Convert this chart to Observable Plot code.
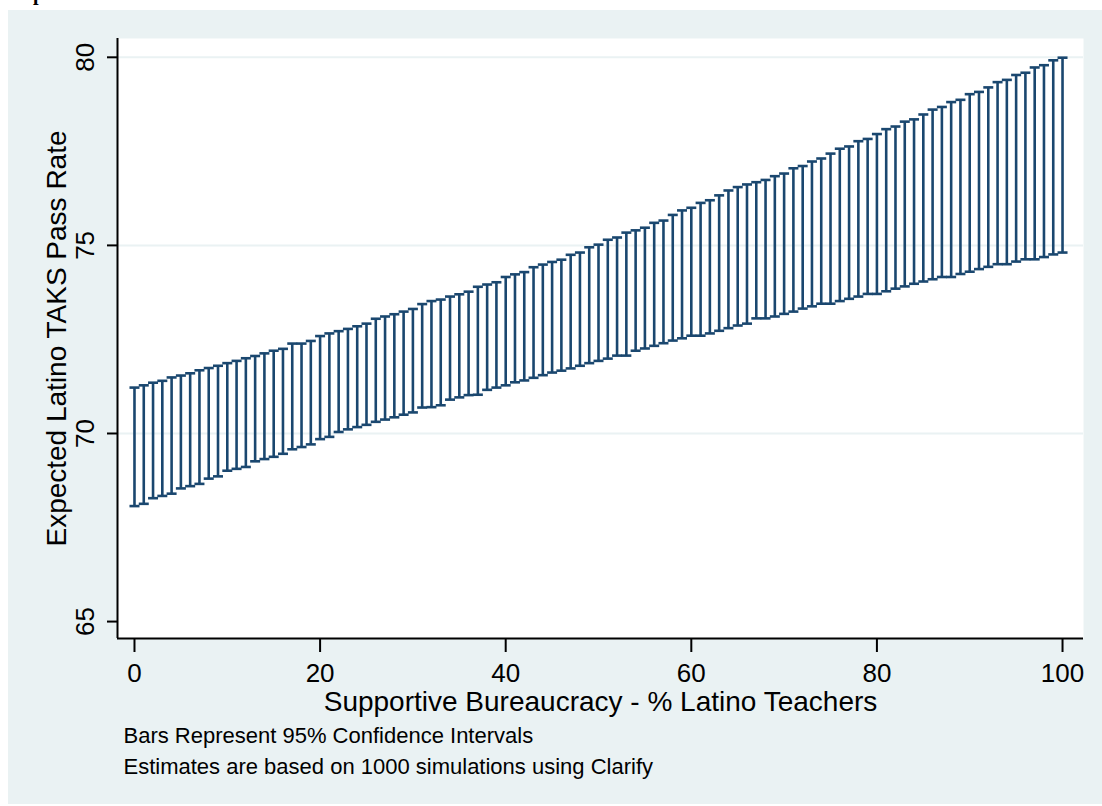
<!DOCTYPE html>
<html>
<head>
<meta charset="utf-8">
<script src="https://cdn.jsdelivr.net/npm/d3@7"></script>
<script src="https://cdn.jsdelivr.net/npm/@observablehq/plot@0.6"></script>
<style>
  html, body { margin: 0; padding: 0; background: #ffffff; width: 1102px; height: 806px; overflow: hidden; }
  #frag { position: absolute; left: 33px; top: -17px; font: bold 20px "Liberation Serif", "Times New Roman", serif; line-height: 20px; color: #000; }
  #chart { position: absolute; left: 8px; top: 10px; }
</style>
</head>
<body>
<div id="frag">p</div>
<div id="chart"></div>
<script>
// % Latino teachers (x)
const pct = [0,1,2,3,4,5,6,7,8,9,10,11,12,13,14,15,16,17,18,19,20,21,22,23,24,25,26,27,28,29,30,31,32,33,34,35,36,37,38,39,40,41,42,43,44,45,46,47,48,49,50,51,52,53,54,55,56,57,58,59,60,61,62,63,64,65,66,67,68,69,70,71,72,73,74,75,76,77,78,79,80,81,82,83,84,85,86,87,88,89,90,91,92,93,94,95,96,97,98,99,100];
// upper bound of 95% CI
const upper = [71.22,71.28,71.35,71.40,71.49,71.54,71.60,71.68,71.74,71.80,71.87,71.93,72.00,72.06,72.13,72.20,72.25,72.39,72.39,72.46,72.59,72.66,72.72,72.78,72.85,72.92,73.05,73.11,73.17,73.24,73.31,73.44,73.52,73.56,73.64,73.70,73.77,73.90,73.96,74.02,74.16,74.23,74.29,74.42,74.49,74.56,74.62,74.75,74.81,74.95,75.02,75.15,75.21,75.34,75.40,75.47,75.60,75.66,75.81,75.93,76.00,76.13,76.20,76.33,76.46,76.55,76.62,76.68,76.74,76.84,76.91,77.05,77.11,77.23,77.31,77.44,77.57,77.63,77.77,77.83,77.96,78.09,78.16,78.29,78.35,78.48,78.61,78.68,78.81,78.87,79.02,79.08,79.20,79.34,79.40,79.53,79.59,79.73,79.79,79.92,79.99];
// lower bound of 95% CI
const lower = [68.07,68.13,68.28,68.34,68.40,68.54,68.60,68.66,68.80,68.86,69.01,69.06,69.11,69.26,69.32,69.38,69.46,69.58,69.64,69.71,69.85,69.91,70.04,70.11,70.17,70.23,70.31,70.37,70.43,70.50,70.56,70.69,70.70,70.75,70.90,70.96,71.02,71.03,71.16,71.22,71.28,71.36,71.41,71.48,71.55,71.62,71.67,71.73,71.80,71.87,71.93,71.99,72.07,72.07,72.20,72.26,72.33,72.40,72.47,72.53,72.60,72.60,72.66,72.73,72.80,72.87,72.92,73.06,73.06,73.11,73.18,73.24,73.32,73.38,73.45,73.45,73.52,73.58,73.64,73.71,73.71,73.78,73.85,73.91,73.98,74.04,74.10,74.16,74.16,74.24,74.30,74.37,74.43,74.50,74.50,74.57,74.63,74.63,74.69,74.76,74.81];

const xTicks = [0, 20, 40, 60, 80, 100];
const yTicks = [65, 70, 75, 80];
const gridValues = [70, 75, 80];
const xDomain = [-1.83, 102.26];
const yDomain = [64.55, 80.5];

const xTitle = "Supportive Bureaucracy - % Latino Teachers";
const yTitle = "Expected Latino TAKS Pass Rate";
const notes = ["Bars Represent 95% Confidence Intervals", "Estimates are based on 1000 simulations using Clarify"];

const data = pct.map((x, i) => ({x, lo: lower[i], hi: upper[i]}));

const barColor = "#1A476F";
const panel = "#EAF2F3";

// horizontal cap symbol (half-width = r)
const capSymbol = {
  draw(context, size) {
    const w = Math.sqrt(size / Math.PI);
    context.moveTo(-w, 0);
    context.lineTo(w, 0);
  }
};

const chart = Plot.plot({
  width: 1094,
  height: 794,
  marginLeft: 109,
  marginTop: 28,
  marginRight: 19,
  marginBottom: 166,
  x: {domain: xDomain},
  y: {domain: yDomain},
  style: {background: panel, fontFamily: "'Liberation Sans', Arial, sans-serif", color: "#000", overflow: "visible"},
  marks: [
    Plot.frame({fill: "white", stroke: null}),
    Plot.gridY(gridValues, {stroke: panel, strokeOpacity: 1, strokeWidth: 2}),
    Plot.ruleX(data, {x: "x", y1: "lo", y2: "hi", stroke: barColor, strokeWidth: 2.6}),
    Plot.dot(data, {x: "x", y: "hi", symbol: capSymbol, r: 5, fill: "none", stroke: barColor, strokeWidth: 2.6}),
    Plot.dot(data, {x: "x", y: "lo", symbol: capSymbol, r: 5, fill: "none", stroke: barColor, strokeWidth: 2.6}),
    Plot.ruleX([xDomain[0]], {y1: yDomain[0], y2: yDomain[1], stroke: "black", strokeWidth: 2}),
    Plot.ruleY([yDomain[0]], {x1: xDomain[0], x2: xDomain[1], stroke: "black", strokeWidth: 2}),
    Plot.axisX({ticks: xTicks, tickSize: 14, tickPadding: 11, fontSize: 26, stroke: "black", strokeWidth: 2, fill: "black", label: null, tickFormat: d => String(d)}),
    Plot.axisY({ticks: yTicks, tickSize: 10, tickPadding: 14, tickRotate: -90, fontSize: 26, stroke: "black", strokeWidth: 2, fill: "black", label: null, tickFormat: d => String(d)}),
    Plot.text([yTitle], {frameAnchor: "left", rotate: -90, dx: -52, lineAnchor: "bottom", textAnchor: "middle", fontSize: 28, fill: "black"}),
    Plot.text([xTitle], {frameAnchor: "bottom", dy: 72, lineAnchor: "bottom", textAnchor: "middle", fontSize: 28, fill: "black"}),
    Plot.text([notes[0]], {frameAnchor: "bottom-left", dx: 6, dy: 104, lineAnchor: "bottom", textAnchor: "start", fontSize: 22, fill: "black"}),
    Plot.text([notes[1]], {frameAnchor: "bottom-left", dx: 6, dy: 135, lineAnchor: "bottom", textAnchor: "start", fontSize: 22, fill: "black"})
  ]
});
document.getElementById("chart").appendChild(chart);
</script>
</body>
</html>
